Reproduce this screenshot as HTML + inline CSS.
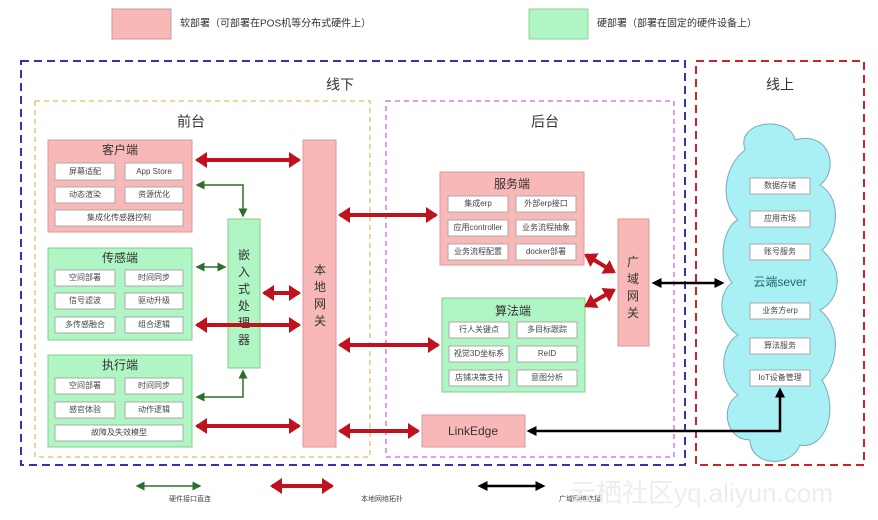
<!DOCTYPE html>
<html><head><meta charset="utf-8"><style>
html,body{margin:0;padding:0;background:#fff;}
svg{display:block;}
text{font-family:"Liberation Sans","Noto Sans CJK SC",sans-serif;fill:#333;}
.s{font-size:8px;text-anchor:middle;dominant-baseline:middle;fill:#444;}
.t{font-size:14px;text-anchor:middle;dominant-baseline:middle;fill:#333;}
.ib{fill:#fff;stroke:#aaa;stroke-width:1;}
</style></head><body>
<svg width="878" height="520" viewBox="0 0 878 520" xmlns="http://www.w3.org/2000/svg">
<defs>
<marker id="rh" markerWidth="4" markerHeight="4" refX="2.5" refY="2" orient="auto-start-reverse" markerUnits="strokeWidth"><path d="M0,0 L3,2 L0,4 z" fill="#c0121e"/></marker>
<marker id="gh" markerWidth="6" markerHeight="6" refX="5" refY="3" orient="auto-start-reverse" markerUnits="strokeWidth"><path d="M0,0 L6,3 L0,6 z" fill="#2d6e2d"/></marker>
<marker id="bh" markerWidth="4" markerHeight="4" refX="3" refY="2" orient="auto-start-reverse" markerUnits="strokeWidth"><path d="M0,0 L4,2 L0,4 z" fill="#000"/></marker>
</defs>
<rect x="112" y="9" width="59" height="30" fill="#f9b8b8" stroke="#c99"/>
<text x="180" y="24" style="font-size:10px;dominant-baseline:middle">软部署（可部署在POS机等分布式硬件上）</text>
<rect x="529" y="9" width="59" height="30" fill="#b0f5c4" stroke="#9c9"/>
<text x="597" y="24" style="font-size:10px;dominant-baseline:middle">硬部署（部署在固定的硬件设备上）</text>
<rect x="21" y="61" width="664" height="404" fill="none" stroke="#3a2fb0" stroke-width="2" stroke-dasharray="8,5"/>
<rect x="696" y="61" width="168" height="404" fill="none" stroke="#d0202a" stroke-width="2" stroke-dasharray="8,5"/>
<rect x="35" y="101" width="335" height="356" fill="none" stroke="#e0a840" stroke-width="1" stroke-dasharray="5,4"/>
<rect x="386" y="101" width="288" height="356" fill="none" stroke="#d030d0" stroke-width="1" stroke-dasharray="5,4"/>
<text class="t" x="340" y="86">线下</text>
<text class="t" x="780" y="86">线上</text>
<text class="t" x="191" y="123">前台</text>
<text class="t" x="545" y="123">后台</text>
<rect x="48" y="140" width="144" height="92" fill="#f9b8b8" stroke="#d99"/>
<text class="t" x="120" y="151" style="font-size:12px">客户端</text>
<rect class="ib" x="55" y="163" width="60" height="17"/><text class="s" x="85" y="172">屏幕适配</text>
<rect class="ib" x="125" y="163" width="58" height="17"/><text class="s" x="154" y="172">App Store</text>
<rect class="ib" x="55" y="187" width="60" height="16"/><text class="s" x="85" y="195">动态渲染</text>
<rect class="ib" x="125" y="187" width="58" height="16"/><text class="s" x="154" y="195">资源优化</text>
<rect class="ib" x="55" y="210" width="128" height="16"/><text class="s" x="119" y="218">集成化传感器控制</text>
<rect x="48" y="248" width="144" height="92" fill="#b0f5c4" stroke="#8c8"/>
<text class="t" x="120" y="259" style="font-size:12px">传感端</text>
<rect class="ib" x="55" y="270" width="60" height="16"/><text class="s" x="85" y="278">空间部署</text>
<rect class="ib" x="125" y="270" width="58" height="16"/><text class="s" x="154" y="278">时间同步</text>
<rect class="ib" x="55" y="293" width="60" height="16"/><text class="s" x="85" y="301">信号滤波</text>
<rect class="ib" x="125" y="293" width="58" height="16"/><text class="s" x="154" y="301">驱动升级</text>
<rect class="ib" x="55" y="317" width="60" height="16"/><text class="s" x="85" y="325">多传感融合</text>
<rect class="ib" x="125" y="317" width="58" height="16"/><text class="s" x="154" y="325">组合逻辑</text>
<rect x="48" y="355" width="144" height="92" fill="#b0f5c4" stroke="#8c8"/>
<text class="t" x="120" y="366" style="font-size:12px">执行端</text>
<rect class="ib" x="55" y="378" width="60" height="16"/><text class="s" x="85" y="386">空间部署</text>
<rect class="ib" x="125" y="378" width="58" height="16"/><text class="s" x="154" y="386">时间同步</text>
<rect class="ib" x="55" y="402" width="60" height="16"/><text class="s" x="85" y="410">感官体验</text>
<rect class="ib" x="125" y="402" width="58" height="16"/><text class="s" x="154" y="410">动作逻辑</text>
<rect class="ib" x="55" y="425" width="128" height="16"/><text class="s" x="119" y="433">故障及失效模型</text>
<rect x="228" y="219" width="32" height="149" fill="#b0f5c4" stroke="#8c8"/>
<text class="t" x="244" y="256" style="font-size:12px">嵌</text><text class="t" x="244" y="273" style="font-size:12px">入</text><text class="t" x="244" y="290" style="font-size:12px">式</text><text class="t" x="244" y="307" style="font-size:12px">处</text><text class="t" x="244" y="324" style="font-size:12px">理</text><text class="t" x="244" y="341" style="font-size:12px">器</text>
<rect x="303" y="140" width="33" height="307" fill="#f9b8b8" stroke="#d99"/>
<text class="t" x="320" y="271" style="font-size:12px">本</text><text class="t" x="320" y="288" style="font-size:12px">地</text><text class="t" x="320" y="305" style="font-size:12px">网</text><text class="t" x="320" y="322" style="font-size:12px">关</text>
<rect x="440" y="172" width="144" height="93" fill="#f9b8b8" stroke="#d99"/>
<text class="t" x="512" y="185" style="font-size:12px">服务端</text>
<rect class="ib" x="448" y="196" width="60" height="16"/><text class="s" x="478" y="204">集成erp</text>
<rect class="ib" x="516" y="196" width="60" height="16"/><text class="s" x="546" y="204">外部erp接口</text>
<rect class="ib" x="448" y="220" width="60" height="16"/><text class="s" x="478" y="228">应用controller</text>
<rect class="ib" x="516" y="220" width="60" height="16"/><text class="s" x="546" y="228">业务流程抽象</text>
<rect class="ib" x="448" y="244" width="60" height="16"/><text class="s" x="478" y="252">业务流程配置</text>
<rect class="ib" x="516" y="244" width="60" height="16"/><text class="s" x="546" y="252">docker部署</text>
<rect x="442" y="298" width="143" height="94" fill="#b0f5c4" stroke="#8c8"/>
<text class="t" x="513" y="312" style="font-size:12px">算法端</text>
<rect class="ib" x="449" y="322" width="60" height="16"/><text class="s" x="479" y="330">行人关键点</text>
<rect class="ib" x="517" y="322" width="60" height="16"/><text class="s" x="547" y="330">多目标跟踪</text>
<rect class="ib" x="449" y="346" width="60" height="16"/><text class="s" x="479" y="354">视觉3D坐标系</text>
<rect class="ib" x="517" y="346" width="60" height="16"/><text class="s" x="547" y="354">ReID</text>
<rect class="ib" x="449" y="370" width="60" height="16"/><text class="s" x="479" y="378">店铺决策支持</text>
<rect class="ib" x="517" y="370" width="60" height="16"/><text class="s" x="547" y="378">意图分析</text>
<rect x="618" y="219" width="31" height="127" fill="#f9b8b8" stroke="#d99"/>
<text class="t" x="633" y="263" style="font-size:12px">广</text><text class="t" x="633" y="280" style="font-size:12px">域</text><text class="t" x="633" y="297" style="font-size:12px">网</text><text class="t" x="633" y="314" style="font-size:12px">关</text>
<rect x="422" y="415" width="103" height="32" fill="#f9b8b8" stroke="#d99"/>
<text class="t" x="473" y="432" style="font-size:12px">LinkEdge</text>
<path d="M745,150 C735,120 790,115 795,140 C830,130 840,170 820,185 C845,200 835,240 822,250 C845,270 840,300 820,310 C845,330 835,370 822,380 C840,410 825,450 800,445 C790,470 750,465 750,440 C725,440 720,405 738,395 C718,380 720,345 738,335 C715,320 720,290 732,283 C715,260 725,225 738,220 C718,200 725,165 745,150 Z" fill="#a8f0f4" stroke="#7ab"/>
<rect class="ib" x="750" y="178" width="60" height="16"/><text class="s" x="780" y="186">数据存储</text>
<rect class="ib" x="750" y="211" width="60" height="16"/><text class="s" x="780" y="219">应用市场</text>
<rect class="ib" x="750" y="244" width="60" height="16"/><text class="s" x="780" y="252">账号服务</text>
<text class="t" x="780" y="283" style="font-size:12px;fill:#1a6a6a">云端sever</text>
<rect class="ib" x="750" y="303" width="60" height="16"/><text class="s" x="780" y="311">业务方erp</text>
<rect class="ib" x="750" y="338" width="60" height="16"/><text class="s" x="780" y="346">算法服务</text>
<rect class="ib" x="750" y="370" width="60" height="16"/><text class="s" x="780" y="378">IoT设备管理</text>
<g stroke="#c0121e" stroke-width="4" fill="none" marker-start="url(#rh)" marker-end="url(#rh)">
<line x1="197" y1="160" x2="299" y2="160"/>
<line x1="264" y1="293" x2="299" y2="293"/>
<line x1="197" y1="325" x2="299" y2="325"/>
<line x1="197" y1="426" x2="299" y2="426"/>
<line x1="340" y1="215" x2="436" y2="215"/>
<line x1="340" y1="345" x2="438" y2="345"/>
<line x1="340" y1="431" x2="418" y2="431"/>
<line x1="586" y1="255" x2="614" y2="272"/>
<line x1="586" y1="306" x2="614" y2="290"/>
<line x1="272" y1="486" x2="332" y2="486"/>
</g>
<g stroke="#2d6e2d" stroke-width="1.5" fill="none">
<polyline points="197,185 243,185 243,216" marker-start="url(#gh)" marker-end="url(#gh)"/>
<line x1="197" y1="267" x2="225" y2="267" marker-start="url(#gh)" marker-end="url(#gh)"/>
<polyline points="197,397 243,397 243,371" marker-start="url(#gh)" marker-end="url(#gh)"/>
<line x1="137" y1="486" x2="200" y2="486" marker-start="url(#gh)" marker-end="url(#gh)"/>
</g>
<g stroke="#000" stroke-width="2.5" fill="none" marker-start="url(#bh)" marker-end="url(#bh)">
<line x1="654" y1="283" x2="722" y2="283"/>
<polyline points="529,431 780,431 780,390"/>
<line x1="480" y1="486" x2="543" y2="486"/>
</g>
<text x="190" y="499" class="s" style="font-size:7px">硬件接口直连</text>
<text x="382" y="499" class="s" style="font-size:7px">本地网络拓扑</text>
<text x="580" y="499" class="s" style="font-size:7px">广域网络连接</text>
<text x="570" y="502" style="font-size:26px;fill:#ececec;opacity:0.9">云栖社区yq.aliyun.com</text>
</svg>
</body></html>
